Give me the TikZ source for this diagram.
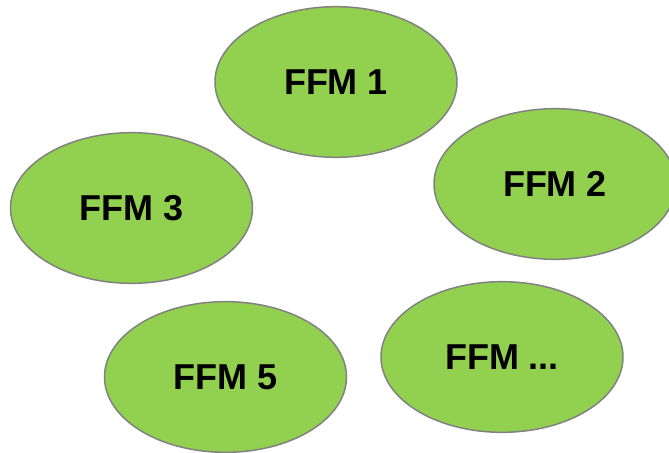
\documentclass[tikz,border=0pt]{standalone}
\usepackage{fontspec}
\setmainfont{Liberation Sans}
\usetikzlibrary{shapes.geometric}

\begin{document}
\begin{tikzpicture}[x=0.75pt, y=-0.75pt,
    ffm/.style={draw=ffmborder, ellipse, fill=ffmgreen, line width=1.1pt,
        minimum width=181.5pt, minimum height=113pt, inner sep=0pt,
        font=\fontsize{27}{32}\selectfont\bfseries}]

            % Цвета
            \definecolor{ffmgreen}{RGB}{146,208,80}   % зелёный
            \definecolor{ffmborder}{RGB}{128,128,128} % серый контур

            \useasboundingbox (0,0) rectangle (669,453);

            % Модели FFM
            \node[ffm] (F1) at (336,82) {FFM 1};
            \node[ffm] (F2) at (555,184) {FFM 2};
            \node[ffm] (F3) at (131.5,208) {FFM 3};
            \node[ffm] (F5) at (225.5,377) {FFM 5};
            \node[ffm] (Fn) at (502,357) {FFM ...};
        \end{tikzpicture}
\end{document}
